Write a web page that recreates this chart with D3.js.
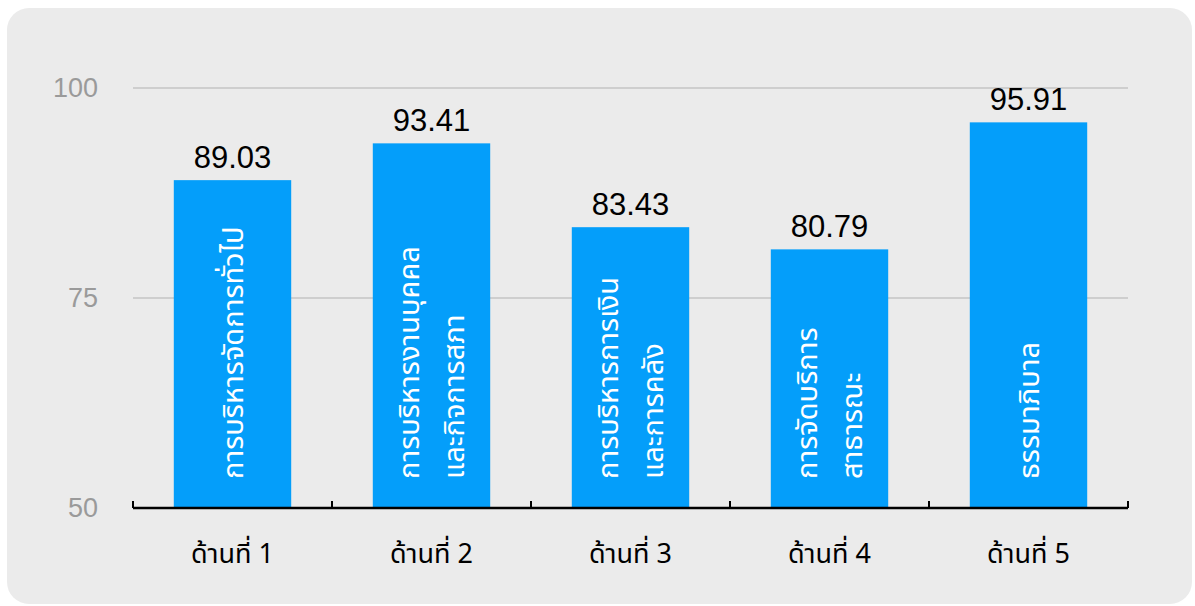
<!DOCTYPE html>
<html>
<head>
<meta charset="utf-8">
<script src="https://cdn.jsdelivr.net/npm/d3@7"></script>
<style>
  html, body { margin: 0; padding: 0; background: #ffffff; }
  svg { display: block; }
</style>
</head>
<body>
<svg id="chart" width="1195" height="606"></svg>
<script>
// Scores by area
const categories = ["ด้านที่ 1", "ด้านที่ 2", "ด้านที่ 3", "ด้านที่ 4", "ด้านที่ 5"];
const values = [89.03, 93.41, 83.43, 80.79, 95.91];
const barNames = [
  ["การบริหารจัดการทั่วไป"],
  ["การบริหารงานบุคคล", "และกิจการสภา"],
  ["การบริหารการเงิน", "และการคลัง"],
  ["การจัดบริการ", "สาธารณะ"],
  ["ธรรมาภิบาล"]
];
const yTicks = [50, 75, 100];

const W = 1195, H = 606;
const margin = { left: 133, right: 67, top: 88, bottom: 98 };
const thaiFont = "'Noto Sans Thai', 'Noto Sans Thai UI', 'Sarabun', 'Loma', 'Garuda', 'Noto Sans', 'DejaVu Sans', sans-serif";
const latinFont = "'Liberation Sans', Arial, Helvetica, sans-serif";

const svg = d3.select("#chart");

// panel background
svg.append("rect")
  .attr("x", 7).attr("y", 8)
  .attr("width", 1185).attr("height", 596)
  .attr("rx", 22).attr("ry", 22)
  .attr("fill", "#ebebeb");

const x = d3.scaleBand()
  .domain(categories)
  .range([margin.left, W - margin.right])
  .paddingInner(0.41)
  .paddingOuter(0.205);

const y = d3.scaleLinear()
  .domain([50, 100])
  .range([H - margin.bottom, margin.top]);

// horizontal gridlines
svg.append("g")
  .selectAll("line")
  .data(yTicks.filter(t => t > 50))
  .join("line")
  .attr("x1", margin.left).attr("x2", W - margin.right)
  .attr("y1", d => y(d)).attr("y2", d => y(d))
  .attr("stroke", "#c4c4c4")
  .attr("stroke-width", 1.5);

// y axis labels
const yAxis = d3.axisLeft(y).tickValues(yTicks).tickSize(0).tickPadding(35);
const gy = svg.append("g")
  .attr("transform", `translate(${margin.left},0)`)
  .call(yAxis);
gy.select(".domain").remove();
gy.selectAll("text")
  .attr("fill", "#9a9a9a")
  .style("font-family", latinFont)
  .style("font-size", "27px");

// bars
svg.append("g")
  .selectAll("rect")
  .data(values)
  .join("rect")
  .attr("x", (d, i) => x(categories[i]))
  .attr("y", d => y(d))
  .attr("width", x.bandwidth())
  .attr("height", d => y(50) - y(d))
  .attr("fill", "#049efa");

// value labels
svg.append("g")
  .selectAll("text")
  .data(values)
  .join("text")
  .attr("x", (d, i) => x(categories[i]) + x.bandwidth() / 2)
  .attr("y", d => y(d) - 12)
  .attr("text-anchor", "middle")
  .attr("fill", "#000")
  .style("font-family", latinFont)
  .style("font-size", "31px")
  .text(d => d.toFixed(2));

// rotated names inside bars
const lineGap = 45;
const names = svg.append("g")
  .selectAll("text")
  .data(barNames)
  .join("text")
  .attr("transform", (d, i) => `translate(${x(categories[i]) + x.bandwidth() / 2},${y(50) - 29}) rotate(-90)`)
  .attr("fill", "#ffffff")
  .attr("text-anchor", "start")
  .style("font-family", thaiFont)
  .style("font-size", "29px");
names.each(function(lines) {
  const t = d3.select(this);
  const n = lines.length;
  lines.forEach((s, k) => {
    t.append("tspan")
      .attr("x", 0)
      .attr("y", (k - (n - 1) / 2) * lineGap + 10)
      .text(s);
  });
});

// x axis
const xAxis = d3.axisBottom(x).tickSize(0).tickPadding(36);
const gx = svg.append("g")
  .attr("transform", `translate(0,${y(50)})`)
  .call(xAxis);
gx.select(".domain").remove();
gx.selectAll("text")
  .attr("fill", "#000")
  .style("font-family", thaiFont)
  .style("font-size", "27px");

// baseline with upward ticks at band edges
const tickXs = d3.range(categories.length + 1).map(i => margin.left + i * x.step());
svg.append("line")
  .attr("x1", margin.left).attr("x2", W - margin.right)
  .attr("y1", y(50)).attr("y2", y(50))
  .attr("stroke", "#000").attr("stroke-width", 2.5);
svg.append("g")
  .selectAll("line")
  .data(tickXs)
  .join("line")
  .attr("x1", d => d).attr("x2", d => d)
  .attr("y1", y(50)).attr("y2", y(50) - 7)
  .attr("stroke", "#000").attr("stroke-width", 2);
</script>
</body>
</html>
